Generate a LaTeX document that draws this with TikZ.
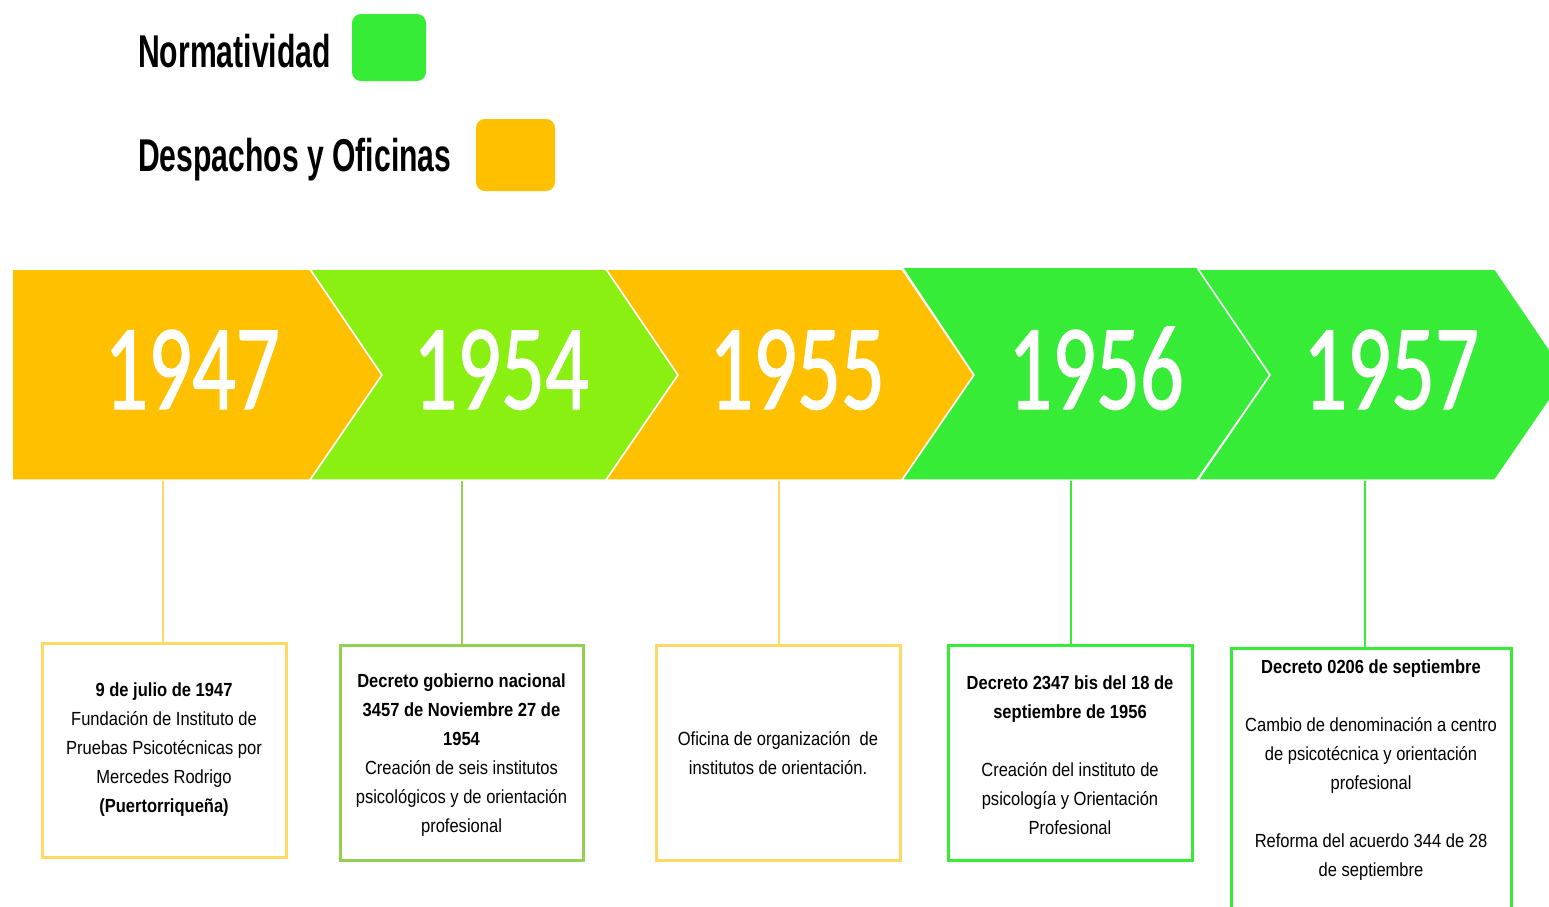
\documentclass[tikz,border=0pt]{standalone}
\usepackage{fontspec}
\setmainfont{Liberation Sans}
\newfontfamily\legendfont[FakeStretch=0.655]{Liberation Sans}
\newfontfamily\yearfont[FakeStretch=0.71,FakeBold=1]{Carlito}
\newfontfamily\boxfont[FakeStretch=0.87]{Liberation Sans}
\definecolor{corange}{HTML}{FFC000}
\definecolor{clime}{HTML}{8AF012}
\definecolor{cgreen}{HTML}{37EC37}
\definecolor{borange}{HTML}{FFD966}
\definecolor{blime}{HTML}{92D050}
\tikzset{
  chev/.style={fill=#1, draw=white, line width=1.5pt, line join=miter},
  year/.style={text=white, font=\yearfont\fontsize{122}{122}\selectfont, anchor=base, inner sep=0pt},
  legendtxt/.style={font=\legendfont\bfseries\fontsize{46}{46}\selectfont, anchor=base west, inner sep=0pt},
  legendbox/.style={fill=#1, rounded corners=9pt, inner sep=0pt, draw=none},
  evbox/.style={draw=#1, line width=3pt, fill=white, inner sep=0pt},
  evtext/.style={font=\boxfont\fontsize{19}{29}\selectfont, align=center, inner sep=0pt, text=black},
  link/.style={draw=#1, line width=2.5pt}
}
\begin{document}
\begin{tikzpicture}[x=1pt,y=-1pt]
\useasboundingbox (0,0) rectangle (1549,906);
\clip (0,0) rectangle (1549,906);
\fill[white] (0,0) rectangle (1549,906);

% legend
\node[legendtxt] (lnorm) at (138,67) {Normatividad};
\node[legendbox=cgreen, minimum width=74pt, minimum height=67pt] (lgreen) at (389,47.5) {};
\node[legendtxt] (ldesp) at (138,171) {Despachos y Oficinas};
\node[legendbox=corange, minimum width=79pt, minimum height=72pt] (lorange) at (515.5,155) {};

% chevrons
\path[chev=corange] (12,269) -- (310,269) -- (382,375) -- (310,480) -- (12,480) -- cycle;
\path[chev=clime] (310,269) -- (606,269) -- (678,375) -- (606,480) -- (310,480) -- (382,375) -- cycle;
\path[chev=corange] (606,269) -- (902,269) -- (974,375) -- (902,480) -- (606,480) -- (678,375) -- cycle;
\path[chev=cgreen] (902,267) -- (1197,267) -- (1270,375) -- (1197,480) -- (902,480) -- (974,375) -- cycle;
\path[chev=cgreen] (1198,269) -- (1495,269) -- (1567,375) -- (1495,480) -- (1198,480) -- (1270,375) -- cycle;

\node[year] (y1) at (192,409) {1947};
\node[year] (y2) at (501,409) {1954};
\node[year] (y3) at (797,409) {1955};
\node[year] (y4) at (1096,409) {1956};
\node[year] (y5) at (1391,409) {1957};

% connector starts
\coordinate (c1) at (163,481);
\coordinate (c2) at (462,481);
\coordinate (c3) at (779,481);
\coordinate (c4) at (1071,481);
\coordinate (c5) at (1365,481);

% boxes
\node[evbox=borange, minimum width=244pt, minimum height=214pt] (b1) at (164,750) {};
\node[evbox=blime, minimum width=243pt, minimum height=215pt] (b2) at (461.5,752.5) {};
\node[evbox=borange, minimum width=244pt, minimum height=215pt] (b3) at (778,752.5) {};
\node[evbox=cgreen, minimum width=244pt, minimum height=215pt] (b4) at (1070,752.5) {};
\node[evbox=cgreen, minimum width=280pt, minimum height=282pt] (b5) at (1371,789) {};

\draw[link=borange] (c1) -- (c1 |- b1.north);
\draw[link=blime] (c2) -- (c2 |- b2.north);
\draw[link=borange] (c3) -- (c3 |- b3.north);
\draw[link=cgreen] (c4) -- (c4 |- b4.north);
\draw[link=cgreen] (c5) -- (c5 |- b5.north);

% texts
\node[evtext] (t1) at (b1.center) {\textbf{9 de julio de 1947}\\Fundación de Instituto de\\Pruebas Psicotécnicas por\\Mercedes Rodrigo\\\textbf{(Puertorriqueña)}};
\node[evtext] (t2) at (461.5,755) {\textbf{Decreto gobierno nacional}\\\textbf{3457 de Noviembre 27 de}\\\textbf{1954}\\Creación de seis institutos\\psicológicos y de orientación\\profesional};
\node[evtext] (t3) at (778,753) {Oficina de organización~ de\\institutos de orientación.};
\node[evtext] (t4) at (1070,755) {\textbf{Decreto 2347 bis del 18 de}\\\textbf{septiembre de 1956}\\[29pt]Creación del instituto de\\psicología y Orientación\\Profesional};
\node[evtext, anchor=north] (t5) at (1371,660) {\textbf{Decreto 0206 de septiembre}\\[29pt]Cambio de denominación a centro\\de psicotécnica y orientación\\profesional\\[29pt]Reforma del acuerdo 344 de 28\\de septiembre};
\end{tikzpicture}
\end{document}
